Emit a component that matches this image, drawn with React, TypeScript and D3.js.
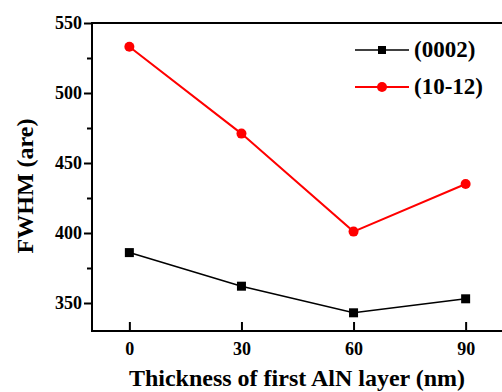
import React, { useEffect, useRef } from "react";
import * as d3 from "d3";

const thickness = [0, 30, 60, 90];
const fwhm0002 = [386, 362, 343, 353];
const fwhm1012 = [533, 471, 401, 435];
const yTicks = [350, 400, 450, 500, 550];
const yMinorTicks = [375, 425, 475, 525];
const seriesNames = ["(0002)", "(10-12)"];

const App: React.FC = () => {
	const ref = useRef<SVGSVGElement>(null);

	useEffect(() => {
		const svg = d3.select(ref.current);
		svg.selectAll("*").remove();

		const margin = { top: 23, right: -1, bottom: 61, left: 92 };
		const W = 502;
		const H = 392;
		const width = W - margin.left - margin.right;
		const height = H - margin.top - margin.bottom;
		const font = "'Liberation Serif', 'Times New Roman', serif";

		const g = svg.append("g").attr("transform", `translate(${margin.left},${margin.top})`);

		const x = d3.scaleLinear().domain([-10, 100]).range([0, width]);
		const y = d3.scaleLinear().domain([330, 550]).range([height, 0]);

		// frame
		g.append("rect")
			.attr("width", width)
			.attr("height", height)
			.attr("fill", "none")
			.attr("stroke", "#000")
			.attr("stroke-width", 2);

		// y axis
		const yAxis = g
			.append("g")
			.call(d3.axisLeft(y).tickValues(yTicks).tickSize(8).tickPadding(2).tickFormat(d3.format("d")));
		yAxis.select(".domain").remove();
		yAxis.selectAll("line").attr("stroke-width", 2);
		yAxis.selectAll("text").style("font-family", font).style("font-size", "18px").style("font-weight", "bold");

		g.append("g")
			.call(d3.axisLeft(y).tickValues(yMinorTicks).tickSize(5).tickFormat(() => ""))
			.call((a) => a.select(".domain").remove())
			.selectAll("line")
			.attr("stroke-width", 2);

		// x axis (ticks inward)
		const xAxis = g
			.append("g")
			.attr("transform", `translate(0,${height})`)
			.call(d3.axisBottom(x).tickValues(thickness).tickSize(-9).tickPadding(11).tickFormat(d3.format("d")));
		xAxis.select(".domain").remove();
		xAxis.selectAll("line").attr("stroke-width", 2);
		xAxis.selectAll("text").style("font-family", font).style("font-size", "18px").style("font-weight", "bold");

		// titles
		svg.append("text")
			.attr("x", 297)
			.attr("y", 386)
			.attr("text-anchor", "middle")
			.style("font-family", font)
			.style("font-size", "24px")
			.style("font-weight", "bold")
			.text("Thickness of first AlN layer (nm)");

		svg.append("text")
			.attr("transform", `translate(33,186) rotate(-90)`)
			.attr("text-anchor", "middle")
			.style("font-family", font)
			.style("font-size", "24px")
			.style("font-weight", "bold")
			.text("FWHM (are)");

		const line = d3
			.line<number>()
			.x((_, i) => x(thickness[i]))
			.y((d) => y(d));

		// (0002)
		g.append("path").datum(fwhm0002).attr("d", line).attr("fill", "none").attr("stroke", "#000").attr("stroke-width", 1.6);
		g.selectAll("rect.pt")
			.data(fwhm0002)
			.enter()
			.append("rect")
			.attr("class", "pt")
			.attr("x", (_, i) => x(thickness[i]) - 4.5)
			.attr("y", (d) => y(d) - 4.5)
			.attr("width", 9)
			.attr("height", 9)
			.attr("fill", "#000");

		// (10-12)
		g.append("path").datum(fwhm1012).attr("d", line).attr("fill", "none").attr("stroke", "#f00").attr("stroke-width", 2);
		g.selectAll("circle.pt")
			.data(fwhm1012)
			.enter()
			.append("circle")
			.attr("class", "pt")
			.attr("cx", (_, i) => x(thickness[i]))
			.attr("cy", (d) => y(d))
			.attr("r", 5)
			.attr("fill", "#f00");

		// legend
		const legend = svg.append("g");
		const colors = ["#000", "#f00"];
		seriesNames.forEach((name, i) => {
			const ly = 50 + i * 37;
			legend.append("line").attr("x1", 355).attr("x2", 409).attr("y1", ly).attr("y2", ly).attr("stroke", colors[i]).attr("stroke-width", i === 0 ? 1.6 : 2);
			if (i === 0) {
				legend.append("rect").attr("x", 378).attr("y", ly - 4).attr("width", 8).attr("height", 8).attr("fill", colors[i]);
			} else {
				legend.append("circle").attr("cx", 382).attr("cy", ly).attr("r", 5).attr("fill", colors[i]);
			}
			legend.append("text")
				.attr("x", 414)
				.attr("y", ly + 7)
				.style("font-family", font)
				.style("font-size", "23px")
				.style("font-weight", "bold")
				.text(name);
		});
	}, []);

	return (
		<svg
			ref={ref}
			width={502}
			height={392}
			style={{ position: "absolute", left: 0, top: 0, background: "#fff" }}
		/>
	);
};

export default App;
